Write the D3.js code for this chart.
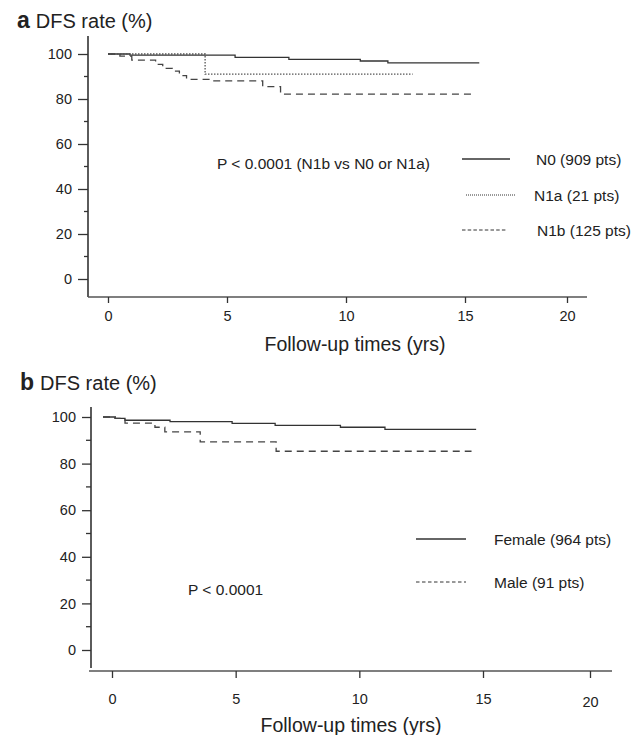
<!DOCTYPE html>
<html lang="en">
 <head>
  <meta charset="UTF-8">
  <title>DFS rate</title>
  <style>
   body { margin: 0; background: #fff; }
   svg text { font-family: "Liberation Sans", Arial, sans-serif; fill: #222; }
  </style>
 </head>
 <body>
<svg width="635" height="735"></svg>

<script src="https://d3js.org/d3.v7.min.js"></script>
<script>

// tick values
var yMajor = [0, 20, 40, 60, 80, 100];
var yMinor = [10, 30, 50, 70, 90];
var xTicks = [0, 5, 10, 15, 20];

// panel a : Kaplan-Meier steps (years, DFS %), last point = end of follow-up
var n0Time  = [0, 0.92, 5.34, 7.6, 10.6, 11.76, 15.7];
var n0Rate  = [100, 99.5, 98.5, 97.6, 96.9, 96.1, 96.1];
var n1aTime = [0, 4.08, 12.8];
var n1aRate = [100, 91.1, 91.1];
var n1bTime = [0, 0.5, 1.0, 2.0, 2.3, 2.7, 3.0, 3.3, 4.35, 6.5, 7.25, 15.5];
var n1bRate = [100, 99.1, 97.3, 95.4, 93.6, 92.4, 90.4, 88.7, 88.1, 85.5, 82.2, 82.2];
var legendA = ["N0 (909 pts)", "N1a (21 pts)", "N1b (125 pts)"];

// panel b
var femaleTime = [0, 0.49, 0.89, 2.71, 5.22, 6.96, 9.6, 11.4, 15.1];
var femaleRate = [100, 99.4, 98.6, 98.0, 97.3, 96.4, 95.6, 94.7, 94.7];
var maleTime   = [0, 0.49, 0.89, 2.1, 2.5, 3.93, 7.0, 14.9];
var maleRate   = [100, 99.4, 97.4, 95.6, 93.6, 89.3, 85.3, 85.3];
var legendB = ["Female (964 pts)", "Male (91 pts)"];

var svg = d3.select("svg");
var ink = "#333";

function zip(t, r) { return t.map(function(d, i){ return {t: d, r: r[i]}; }); }

// draws the frame of one panel (axes, ticks, titles)
function panel(o) {
  var g = svg.append("g");
  var x = d3.scaleLinear().domain([0, 15, 20]).range(o.xRange);
  var y = d3.scaleLinear().domain([0, 100]).range(o.yRange);

  // title
  var t = g.append("text").attr("x", o.titleX).attr("y", o.titleY);
  t.append("tspan").attr("font-weight", "bold").attr("font-size", 23).text(o.letter);
  t.append("tspan").attr("font-size", 20).attr("dx", 6).text("DFS rate (%)");

  // y axis
  g.append("line").attr("x1", o.yAxisX).attr("x2", o.yAxisX)
    .attr("y1", o.yAxisTop).attr("y2", o.yAxisBottom)
    .attr("stroke", ink).attr("stroke-width", 1.6);
  var ya = g.append("g").attr("transform", "translate(" + o.yAxisX + ",0)")
    .call(d3.axisLeft(y).tickValues(yMajor).tickSize(o.majorLen).tickPadding(6));
  ya.select(".domain").remove();
  ya.selectAll(".tick line").attr("stroke", ink).attr("stroke-width", 1.3);
  ya.selectAll(".tick text").attr("font-size", 14.5).attr("fill", "#222")
    .attr("font-family", "Liberation Sans, Arial, sans-serif");
  g.selectAll(".minor").data(yMinor).enter().append("line")
    .attr("x1", o.yAxisX - o.minorLen).attr("x2", o.yAxisX)
    .attr("y1", function(d){ return y(d); }).attr("y2", function(d){ return y(d); })
    .attr("stroke", ink).attr("stroke-width", 1.3);

  // x axis
  g.append("line").attr("x1", o.xAxisLeft).attr("x2", o.xAxisRight)
    .attr("y1", o.xAxisY).attr("y2", o.xAxisY)
    .attr("stroke", "#555").attr("stroke-width", 1.6);
  var xa = g.append("g").attr("transform", "translate(" + o.xShift + "," + o.xAxisY + ")")
    .call(d3.axisBottom(x).tickValues(xTicks).tickSize(o.xTickLen).tickPadding(o.xPad));
  xa.select(".domain").remove();
  xa.selectAll(".tick line").attr("stroke", ink).attr("stroke-width", 1.3);
  xa.selectAll(".tick text").attr("font-size", 14.5).attr("fill", "#222")
    .attr("font-family", "Liberation Sans, Arial, sans-serif");
  if (o.lastDrop) {
    xa.selectAll(".tick text").filter(function(d){ return d == 20; }).attr("dy", (0.71 * 14.5 + o.lastDrop) + "px");
  }

  g.append("text").attr("x", o.labelX).attr("y", o.labelY)
    .attr("text-anchor", "middle").attr("font-size", 19.5)
    .text("Follow-up times (yrs)");

  return {g: g, x: x, y: y};
}

function curve(p, data, dash, col) {
  var line = d3.line().curve(d3.curveStepAfter)
    .x(function(d){ return p.x(d.t); })
    .y(function(d){ return p.y(d.r); });
  p.g.append("path").datum(data).attr("d", line)
    .attr("fill", "none").attr("stroke", col || ink).attr("stroke-width", 1.3)
    .attr("stroke-dasharray", dash);
}

function legend(p, x1, x2, ly, tx, label, dash, w) {
  p.g.append("line").attr("x1", x1).attr("x2", x2).attr("y1", ly).attr("y2", ly)
    .attr("stroke", ink).attr("stroke-width", w).attr("stroke-dasharray", dash);
  p.g.append("text").attr("x", tx).attr("y", ly + 6).attr("font-size", 15.5).text(label);
}

// ---- panel a ----
var a = panel({
  letter: "a", titleX: 17, titleY: 28,
  xRange: [108, 465, 567], yRange: [279, 54], xShift: 0,
  yAxisX: 88, yAxisTop: 36, yAxisBottom: 297, majorLen: 10, minorLen: 4,
  xAxisLeft: 88, xAxisRight: 587, xAxisY: 297, xTickLen: 6, xPad: 8,
  labelX: 355, labelY: 351, lastDrop: 0
});
curve(a, zip(n0Time, n0Rate), null);
curve(a, zip(n1aTime, n1aRate), "1.5,1.5", "#555");
curve(a, zip(n1bTime, n1bRate), "7,5", "#444");

a.g.append("text").attr("x", 217).attr("y", 169).attr("font-size", 15.5)
  .text("P < 0.0001 (N1b vs N0 or N1a)");
legend(a, 462, 510, 159, 536, legendA[0], null, 1.6);
legend(a, 466, 515, 195, 534, legendA[1], "1,1", 1);
legend(a, 462, 507, 230, 537, legendA[2], "3.5,2.2", 1);

// ---- panel b ----
var b = panel({
  letter: "b", titleX: 20, titleY: 390,
  xRange: [103, 474, 581], yRange: [650, 417], xShift: 9,
  yAxisX: 91, yAxisTop: 407, yAxisBottom: 668, majorLen: 9, minorLen: 5,
  xAxisLeft: 89, xAxisRight: 612, xAxisY: 671, xTickLen: 7, xPad: 16,
  labelX: 351, labelY: 732, lastDrop: 3
});
curve(b, zip(femaleTime, femaleRate), null);
curve(b, zip(maleTime, maleRate), "7,5", "#444");

b.g.append("text").attr("x", 188).attr("y", 595).attr("font-size", 15.5).text("P < 0.0001");
legend(b, 416, 466, 539, 494, legendB[0], null, 1.3);
legend(b, 416, 466, 582, 494, legendB[1], "3.5,2.5", 1);

</script>
 </body>
</html>
